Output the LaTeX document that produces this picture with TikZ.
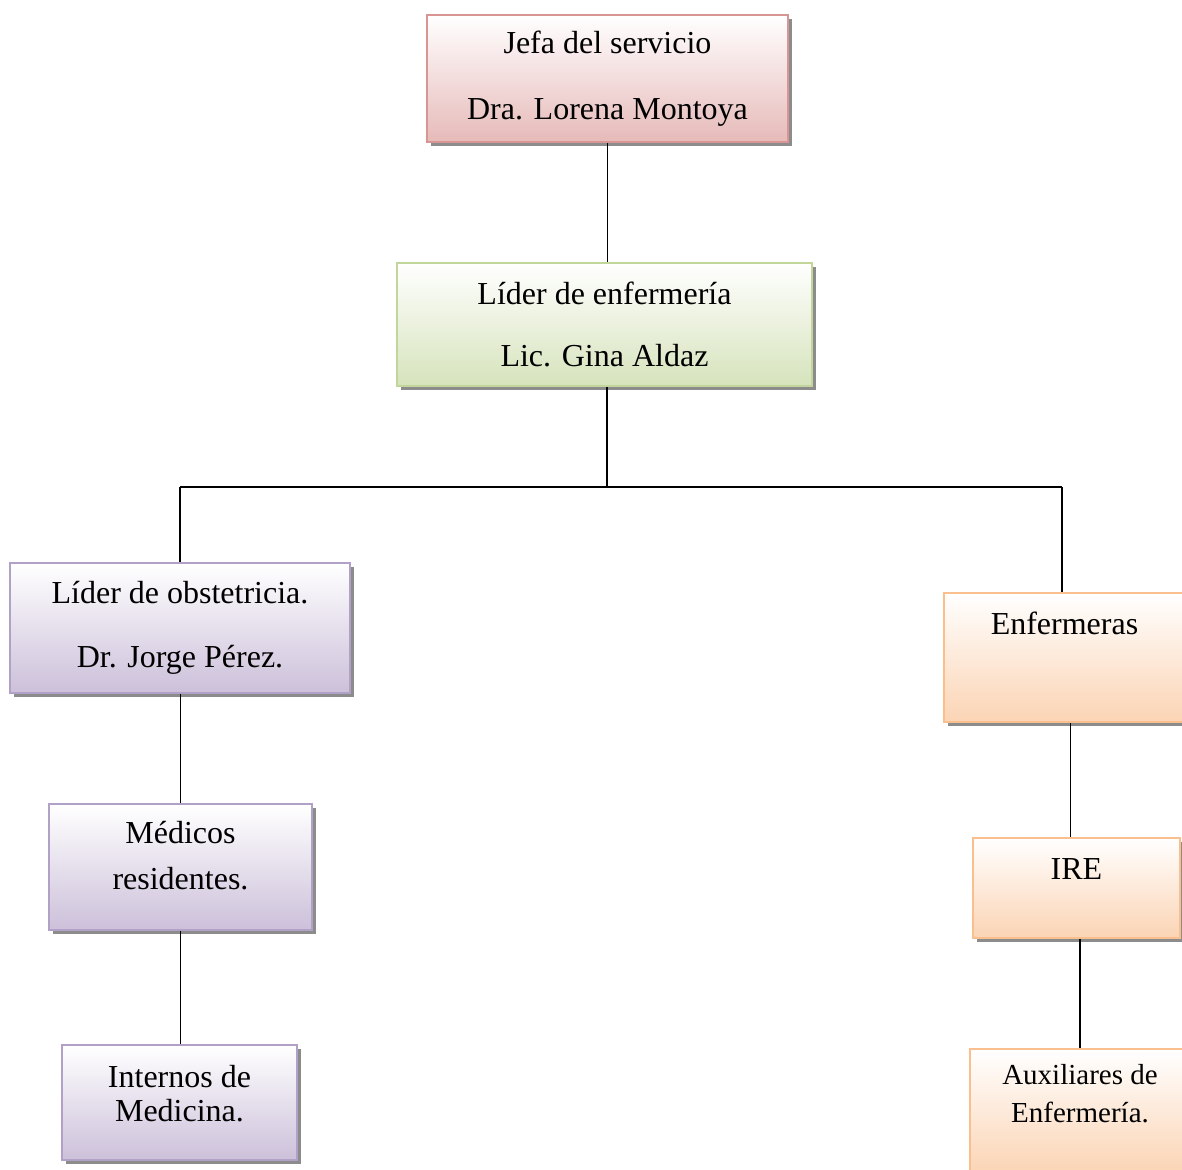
\documentclass[tikz,border=0pt]{standalone}
\usepackage{fontspec}
\setmainfont{Liberation Serif}
\usetikzlibrary{shadows}
\definecolor{rosaline}{RGB}{217,149,148}
\definecolor{rosafill}{RGB}{230,186,185}
\definecolor{verdeline}{RGB}{194,214,155}
\definecolor{verdefill}{RGB}{214,227,188}
\definecolor{lilaline}{RGB}{178,161,199}
\definecolor{lilafill}{RGB}{204,192,218}
\definecolor{naranjaline}{RGB}{250,191,143}
\definecolor{naranjafill}{RGB}{251,212,180}
\newcommand{\bajo}[1]{\rule[-#1]{0pt}{#1}}
\tikzset{
  cargo/.style={draw, line width=1.1pt, align=center, inner sep=0pt,
    font=\fontsize{16}{19.2}\selectfont, top color=white,
    drop shadow={shadow xshift=2.2pt, shadow yshift=-2.2pt, fill=black!45, opacity=1}},
  rosa/.style={cargo, draw=rosaline, bottom color=rosafill},
  verde/.style={cargo, draw=verdeline, bottom color=verdefill},
  lila/.style={cargo, draw=lilaline, bottom color=lilafill},
  naranja/.style={cargo, draw=naranjaline, bottom color=naranjafill},
  enlace/.style={line width=0.9pt}
}
\begin{document}
\begin{tikzpicture}[x=0.5pt,y=0.5pt,yscale=-1,xscale=1]
\useasboundingbox (0,0) rectangle (1182,1169);

%Boxes
\node[rosa, minimum width=180.5pt, minimum height=63.5pt] (jefe) at (607.5,78.5) {Jefa del servicio\\[14.1pt]Dra. Lorena Montoya};
\node[verde, minimum width=207.5pt, minimum height=61.5pt] (lider) at (604.5,324.5) {Líder de enfermería\\[11.6pt]Lic. Gina Aldaz};
\node[lila, minimum width=170pt, minimum height=65pt] (obst) at (180,628) {Líder de obstetricia.\\[12.6pt]Dr. Jorge Pérez.};
\node[naranja, minimum width=120.5pt, minimum height=64.5pt] (enf) at (1064.5,657.5) {Enfermeras\bajo{34.5pt}};
\node[lila, minimum width=131.5pt, minimum height=63pt] (med) at (180.5,867) {Médicos\\[3.8pt]residentes.\bajo{11.5pt}};
\node[naranja, minimum width=103.5pt, minimum height=50pt] (ire) at (1076.5,888) {IRE\bajo{18.5pt}};
\node[lila, minimum width=117.5pt, minimum height=57.5pt] (int) at (179.5,1102.5) {Internos de\\[-2.2pt]Medicina.\bajo{9pt}};
\node[naranja, minimum width=110pt, minimum height=62.5pt, font=\fontsize{14.5}{17.4}\selectfont] (aux) at (1080,1111.5) {Auxiliares de\\[1.6pt]Enfermería.\bajo{18.5pt}};

%Straight Lines
\coordinate (rama) at (607,487);
\draw[enlace] (jefe.south) -- (jefe.south |- lider.north);
\draw[enlace] (rama |- lider.south) -- (rama);
\draw[enlace] (obst.north |- rama) -- ([xshift=-1.2pt]enf.north |- rama);
\draw[enlace] (obst.north |- rama) -- (obst.north);
\draw[enlace] ([xshift=-1.2pt]enf.north |- rama) -- ([xshift=-1.2pt]enf.north);
\draw[enlace] (med.north |- obst.south) -- (med.north);
\draw[enlace] (med.south) -- (med.south |- int.north);
\draw[enlace] ([xshift=3pt]enf.south) -- ([xshift=3pt]enf.south |- ire.north);
\draw[enlace] (aux.north |- ire.south) -- (aux.north);
\end{tikzpicture}
\end{document}
